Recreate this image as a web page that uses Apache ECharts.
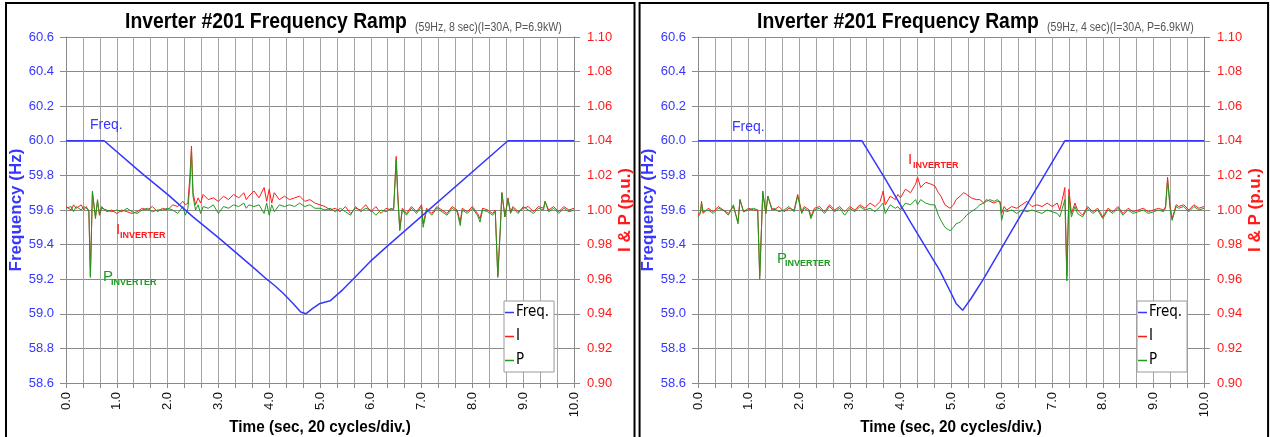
<!DOCTYPE html>
<html><head><meta charset="utf-8">
<script src="https://cdn.jsdelivr.net/npm/echarts@6/dist/echarts.min.js"></script>
<style>html,body{margin:0;padding:0;background:#fff}#c{width:1270px;height:437px}</style>
</head><body><div id="c"></div><script>
// ---------- DATA ----------
const titleMain = 'Inverter #201 Frequency Ramp';
const subtitles = ['(59Hz, 8 sec)(I=30A, P=6.9kW)', '(59Hz, 4 sec)(I=30A, P=6.9kW)'];
const xAxisTitle = 'Time (sec, 20 cycles/div.)';
const seriesNames = ['Freq.', 'I', 'P'];

// Left panel (8 sec ramp)
const freqL = [[0,60.0],[0.75,60.0],[1.5,59.81],[2.0,59.69],[2.5,59.56],[3.0,59.44],[3.3,59.365],[3.68,59.27],[3.95,59.2],[4.1,59.165],[4.27,59.12],[4.47,59.06],[4.62,59.01],[4.72,59.0],[4.85,59.03],[5.0,59.06],[5.2,59.075],[5.45,59.14],[5.65,59.2],[5.98,59.3],[6.32,59.39],[8.7,60.0],[10,60.0]];
const curL = [[0,1.002],[0.1,1.000],[0.15,1.003],[0.2,1.001],[0.3,1.003],[0.35,1.000],[0.4,1.002],[0.45,0.999],[0.48,0.962],[0.52,1.010],[0.58,0.996],[0.62,1.005],[0.66,0.997],[0.7,1.002],[0.8,0.999],[0.9,1.000],[1.0,0.998],[1.1,1.000],[1.2,0.999],[1.3,0.998],[1.4,0.999],[1.5,1.001],[1.6,1.000],[1.7,1.002],[1.8,0.999],[1.9,1.001],[2.0,1.000],[2.1,1.003],[2.2,1.002],[2.3,1.005],[2.35,1.003],[2.4,1.004],[2.44,1.020],[2.47,1.037],[2.5,1.010],[2.55,1.003],[2.6,1.007],[2.65,1.004],[2.7,1.009],[2.8,1.006],[2.9,1.007],[3.0,1.005],[3.1,1.008],[3.2,1.006],[3.3,1.009],[3.4,1.007],[3.5,1.010],[3.55,1.006],[3.6,1.008],[3.7,1.011],[3.8,1.007],[3.9,1.013],[3.95,1.005],[4.0,1.012],[4.05,1.004],[4.1,1.010],[4.2,1.006],[4.3,1.008],[4.4,1.006],[4.5,1.007],[4.6,1.008],[4.7,1.005],[4.8,1.006],[4.9,1.004],[5.0,1.003],[5.1,1.002],[5.2,1.000],[5.3,1.001],[5.4,0.999],[5.5,1.002],[5.6,0.998],[5.7,1.001],[5.8,1.000],[5.9,1.003],[6.0,0.999],[6.1,1.002],[6.2,0.998],[6.3,1.001],[6.4,1.000],[6.45,1.001],[6.5,1.031],[6.53,1.010],[6.57,0.989],[6.62,1.001],[6.7,0.998],[6.8,1.002],[6.9,0.999],[7.0,1.003],[7.03,0.992],[7.1,1.001],[7.2,0.998],[7.3,1.002],[7.4,1.000],[7.5,0.998],[7.6,1.002],[7.7,1.000],[7.76,0.993],[7.8,1.001],[7.9,0.999],[8.0,1.002],[8.1,0.998],[8.15,0.995],[8.2,1.001],[8.3,1.000],[8.4,0.998],[8.45,1.000],[8.5,0.962],[8.55,0.990],[8.58,1.010],[8.64,0.996],[8.7,1.007],[8.75,0.999],[8.8,1.002],[8.9,0.999],[9.0,1.001],[9.1,1.002],[9.2,0.999],[9.3,1.002],[9.4,1.001],[9.43,1.005],[9.5,1.000],[9.6,1.002],[9.7,0.999],[9.8,1.002],[9.9,1.000],[10.0,1.001]];
const powL = [[0,1.001],[0.1,1.002],[0.15,0.999],[0.2,1.002],[0.3,1.000],[0.35,1.002],[0.4,1.001],[0.45,1.000],[0.48,0.961],[0.52,1.011],[0.58,0.995],[0.62,1.006],[0.66,0.997],[0.7,1.001],[0.8,1.000],[0.9,0.999],[1.0,1.000],[1.1,0.999],[1.2,1.001],[1.3,0.999],[1.4,0.998],[1.5,1.000],[1.6,1.001],[1.7,0.999],[1.8,1.000],[1.9,1.000],[2.0,1.001],[2.1,1.000],[2.2,0.998],[2.3,1.002],[2.35,0.997],[2.4,1.001],[2.44,1.015],[2.47,1.034],[2.5,1.008],[2.55,1.000],[2.6,1.003],[2.65,0.998],[2.7,1.002],[2.8,1.001],[2.9,1.003],[3.0,0.998],[3.1,1.002],[3.2,1.001],[3.3,1.003],[3.4,1.002],[3.5,1.004],[3.55,1.001],[3.6,1.003],[3.7,1.002],[3.8,1.003],[3.9,0.998],[3.95,1.004],[4.0,0.997],[4.05,1.003],[4.1,0.999],[4.2,1.003],[4.3,1.002],[4.4,1.003],[4.5,1.002],[4.6,1.004],[4.7,1.002],[4.8,1.003],[4.9,1.001],[5.0,1.001],[5.1,1.000],[5.2,1.001],[5.3,0.999],[5.4,1.001],[5.5,0.999],[5.6,0.997],[5.7,1.002],[5.8,0.999],[5.9,1.001],[6.0,1.000],[6.1,0.997],[6.2,1.000],[6.3,0.999],[6.4,1.001],[6.45,1.000],[6.5,1.029],[6.53,1.008],[6.57,0.988],[6.62,1.000],[6.7,0.997],[6.8,1.001],[6.9,0.998],[7.0,1.002],[7.03,0.990],[7.1,1.000],[7.2,0.997],[7.3,1.001],[7.4,0.999],[7.5,0.997],[7.6,1.001],[7.7,0.999],[7.76,0.991],[7.8,1.000],[7.9,0.998],[8.0,1.001],[8.1,0.997],[8.15,0.993],[8.2,1.000],[8.3,0.999],[8.4,0.997],[8.45,0.999],[8.5,0.961],[8.55,0.989],[8.58,1.010],[8.64,0.996],[8.7,1.006],[8.75,0.998],[8.8,1.001],[8.9,0.998],[9.0,1.002],[9.1,1.000],[9.2,0.998],[9.3,1.001],[9.4,1.000],[9.43,1.005],[9.5,0.999],[9.6,1.001],[9.7,0.998],[9.8,1.001],[9.9,0.999],[10.0,1.000]];

// Right panel (4 sec ramp)
const freqR = [[0,60.0],[3.24,60.0],[3.7,59.78],[4.2,59.53],[4.78,59.25],[5.0,59.12],[5.1,59.06],[5.23,59.02],[5.4,59.09],[5.64,59.2],[6.1,59.43],[6.6,59.68],[7.25,60.0],[10,60.0]];
const curR = [[0,0.997],[0.05,0.999],[0.07,1.005],[0.1,0.998],[0.2,1.001],[0.3,0.999],[0.4,1.002],[0.5,1.000],[0.6,0.998],[0.7,1.002],[0.79,0.993],[0.83,1.006],[0.9,0.999],[1.0,1.001],[1.1,1.000],[1.18,1.000],[1.22,0.962],[1.28,1.010],[1.34,0.998],[1.38,1.008],[1.46,1.001],[1.5,1.000],[1.6,1.002],[1.7,0.999],[1.8,1.001],[1.9,1.000],[1.97,1.009],[2.05,0.999],[2.1,1.002],[2.2,1.000],[2.23,0.996],[2.3,1.001],[2.4,1.002],[2.5,0.999],[2.6,1.003],[2.7,1.000],[2.8,1.002],[2.9,0.999],[3.0,1.002],[3.1,1.000],[3.2,1.003],[3.3,1.001],[3.4,1.004],[3.5,1.002],[3.6,1.005],[3.66,1.011],[3.7,1.003],[3.8,1.008],[3.9,1.006],[3.95,1.009],[4.0,1.007],[4.1,1.012],[4.2,1.010],[4.3,1.015],[4.34,1.019],[4.4,1.013],[4.5,1.016],[4.6,1.015],[4.68,1.014],[4.75,1.010],[4.8,1.008],[4.88,1.003],[4.98,1.001],[5.05,1.003],[5.1,1.006],[5.18,1.008],[5.25,1.010],[5.31,1.009],[5.4,1.007],[5.5,1.006],[5.57,1.006],[5.65,1.004],[5.7,1.006],[5.77,1.005],[5.85,1.004],[5.92,1.005],[5.97,1.005],[6.0,0.998],[6.05,1.002],[6.1,1.000],[6.2,1.002],[6.3,1.001],[6.4,1.003],[6.5,1.005],[6.6,1.002],[6.7,1.003],[6.8,1.002],[6.9,1.004],[7.0,1.002],[7.1,1.004],[7.15,1.000],[7.2,1.006],[7.25,1.013],[7.29,0.962],[7.33,1.012],[7.38,0.998],[7.45,1.004],[7.5,1.000],[7.6,0.997],[7.7,1.002],[7.8,0.999],[7.9,1.001],[8.0,0.996],[8.1,1.001],[8.2,0.999],[8.3,1.002],[8.4,0.998],[8.5,1.001],[8.6,0.999],[8.7,1.000],[8.8,1.001],[8.9,0.999],[9.0,1.000],[9.1,1.001],[9.2,1.000],[9.24,1.002],[9.28,1.019],[9.33,1.002],[9.37,0.995],[9.45,1.003],[9.5,1.002],[9.6,1.003],[9.7,1.000],[9.8,1.003],[9.9,1.001],[10.0,1.002]];
const powR = [[0,0.996],[0.05,0.998],[0.07,1.004],[0.1,0.999],[0.2,1.000],[0.3,0.998],[0.4,1.001],[0.5,1.000],[0.6,0.997],[0.7,1.003],[0.79,0.992],[0.83,1.006],[0.9,0.999],[1.0,1.000],[1.1,1.001],[1.18,1.000],[1.22,0.960],[1.28,1.011],[1.34,0.998],[1.38,1.008],[1.46,1.000],[1.5,1.001],[1.6,0.999],[1.7,1.000],[1.8,1.002],[1.9,0.999],[1.97,1.008],[2.05,0.998],[2.1,1.001],[2.2,0.999],[2.23,0.995],[2.3,1.000],[2.4,1.001],[2.5,0.998],[2.6,1.002],[2.7,0.999],[2.8,1.001],[2.9,0.997],[3.0,1.001],[3.1,0.999],[3.2,1.002],[3.3,1.000],[3.4,1.001],[3.5,0.999],[3.6,1.002],[3.66,1.004],[3.7,0.998],[3.8,1.003],[3.9,1.001],[3.95,1.002],[4.0,1.000],[4.1,1.004],[4.2,1.003],[4.3,1.006],[4.34,1.003],[4.4,1.006],[4.5,1.004],[4.6,1.003],[4.68,1.003],[4.75,0.997],[4.8,0.994],[4.88,0.990],[4.98,0.988],[5.05,0.990],[5.1,0.992],[5.18,0.993],[5.25,0.995],[5.31,0.997],[5.4,0.999],[5.5,1.001],[5.57,1.003],[5.65,1.004],[5.7,1.005],[5.77,1.006],[5.85,1.005],[5.92,1.006],[5.97,1.004],[6.0,0.994],[6.05,1.000],[6.1,0.999],[6.2,1.000],[6.3,0.998],[6.4,1.000],[6.5,0.999],[6.6,1.000],[6.7,0.999],[6.8,0.998],[6.9,1.000],[7.0,0.999],[7.1,0.998],[7.15,0.996],[7.2,1.001],[7.25,1.006],[7.29,0.959],[7.33,1.008],[7.38,0.996],[7.45,1.002],[7.5,0.998],[7.6,0.996],[7.7,1.001],[7.8,0.998],[7.9,1.000],[8.0,0.995],[8.1,1.000],[8.2,0.998],[8.3,1.001],[8.4,0.997],[8.5,1.000],[8.6,0.998],[8.7,0.999],[8.8,1.000],[8.9,0.998],[9.0,0.999],[9.1,1.000],[9.2,0.999],[9.24,1.001],[9.28,1.017],[9.33,1.001],[9.37,0.994],[9.45,1.002],[9.5,1.001],[9.6,1.002],[9.7,0.999],[9.8,1.002],[9.9,1.000],[10.0,1.001]];

// ---------- STYLE / LAYOUT ----------
const NARROW = "'Liberation Sans Narrow','DejaVu Sans Condensed','Arial Narrow',sans-serif";
const SANS = "'Liberation Sans',Arial,sans-serif";
const BLUE = '#3636ff', RED = '#ff1a1a', GREEN = '#1f9a1f';
const panels = [
  {off: 0, gridLeft: 66, gridW: 508, freq: freqL, cur: curL, pow: powL, legendLeft: 504},
  {off: 632, gridLeft: 698, gridW: 506, freq: freqR, cur: curR, pow: powR, legendLeft: 1137}
];

const option = {animation: false, backgroundColor: '#fff',
  grid: [], xAxis: [], yAxis: [], series: [], legend: [], graphic: []};

panels.forEach((p, i) => {
  option.grid.push({left: p.gridLeft, top: 37, width: p.gridW, height: 346});
  option.xAxis.push({
    type: 'value', gridIndex: i, min: 0, max: 10, interval: 1,
    axisLine: {show: true, onZero: false, lineStyle: {color: '#8a8a8a'}},
    axisTick: {show: true, length: 5, lineStyle: {color: '#8a8a8a'}},
    minorTick: {show: true, splitNumber: 3, length: 5, lineStyle: {color: '#8a8a8a'}},
    splitLine: {show: true, lineStyle: {color: '#a5a5a5'}},
    minorSplitLine: {show: true, lineStyle: {color: '#a5a5a5'}},
    axisLabel: {rotate: 90, margin: 9, fontSize: 13, color: '#111', fontFamily: SANS, formatter: v => v.toFixed(1)}
  });
  option.yAxis.push({
    type: 'value', gridIndex: i, position: 'left', min: 58.6, max: 60.6, interval: 0.2,
    axisLine: {show: true, lineStyle: {color: '#8a8a8a'}},
    axisTick: {show: true, length: 6, lineStyle: {color: '#8a8a8a'}},
    splitLine: {show: true, lineStyle: {color: '#8a8a8a'}},
    axisLabel: {color: BLUE, fontSize: 13, margin: 12, fontFamily: SANS, formatter: v => v.toFixed(1)},
    name: 'Frequency (Hz)', nameLocation: 'middle', nameRotate: 90, nameGap: 37,
    nameTextStyle: {color: BLUE, fontWeight: 'bold', fontSize: 17, fontFamily: SANS}
  });
  option.yAxis.push({
    type: 'value', gridIndex: i, position: 'right', min: 0.9, max: 1.1, interval: 0.02,
    axisLine: {show: true, lineStyle: {color: '#8a8a8a'}},
    axisTick: {show: true, length: 6, lineStyle: {color: '#8a8a8a'}},
    splitLine: {show: false},
    axisLabel: {color: RED, fontSize: 13, margin: 13, fontFamily: SANS, formatter: v => v.toFixed(2)},
    name: 'I & P (p.u.)', nameLocation: 'middle', nameRotate: 90, nameGap: 43,
    nameTextStyle: {color: RED, fontWeight: 'bold', fontSize: 17, fontFamily: SANS}
  });
  option.series.push(
    {name: 'I', type: 'line', xAxisIndex: i, yAxisIndex: 2 * i + 1, data: p.cur, showSymbol: false, symbol: 'none',
     lineStyle: {color: RED, width: 1}, itemStyle: {color: RED}, z: 2},
    {name: 'P', type: 'line', xAxisIndex: i, yAxisIndex: 2 * i + 1, data: p.pow, showSymbol: false, symbol: 'none',
     lineStyle: {color: GREEN, width: 1}, itemStyle: {color: GREEN}, z: 3},
    {name: 'Freq.', type: 'line', xAxisIndex: i, yAxisIndex: 2 * i, data: p.freq, showSymbol: false, symbol: 'none',
     lineStyle: {color: BLUE, width: 1.5}, itemStyle: {color: BLUE}, z: 4}
  );
  option.legend.push({
    data: seriesNames, left: p.legendLeft, top: 301, orient: 'vertical',
    icon: 'rect', itemWidth: 9, itemHeight: 1.5, itemGap: 9,
    padding: [4, 5, 4, 1], backgroundColor: '#fff', borderColor: '#9a9a9a', borderWidth: 1,
    textStyle: {fontFamily: NARROW, fontSize: 15, color: '#000', padding: [0, 0, 0, -3]},
    selectedMode: false
  });
  // title (narrow look via horizontal scale)
  option.graphic.push({type: 'text', x: 125 + p.off, y: 22, scaleX: 0.88, z: 60, silent: true,
    style: {text: titleMain, x: 0, y: 0, align: 'left', verticalAlign: 'middle', fill: '#000',
      font: 'bold 22px ' + SANS}});
  option.graphic.push({type: 'text', x: 415 + p.off, y: 28, scaleX: 0.88, z: 60, silent: true,
    style: {text: subtitles[i], x: 0, y: 0, align: 'left', verticalAlign: 'middle', fill: '#555',
      font: '12px ' + SANS}});
  option.graphic.push({type: 'text', x: p.gridLeft + p.gridW / 2, y: 427, scaleX: 0.9, z: 60, silent: true,
    style: {text: xAxisTitle, x: 0, y: 0, align: 'center', verticalAlign: 'middle', fill: '#000',
      font: 'bold 17px ' + SANS}});
  option.graphic.push({type: 'rect', shape: {x: 6 + p.off * 1.0025, y: 3, width: 628.5, height: 460},
    style: {fill: 'none', stroke: '#000', lineWidth: 2}, silent: true, z: 100});
});

// annotation labels
const ann = [
  {t: 'Freq.', x: 90, y: 118, c: BLUE, f: '14px ' + SANS},
  {t: 'I', x: 116, y: 222, c: RED, f: '15px ' + SANS},
  {t: 'INVERTER', x: 120, y: 231, c: RED, f: 'bold 9px ' + SANS},
  {t: 'P', x: 103, y: 269, c: GREEN, f: '15px ' + SANS},
  {t: 'INVERTER', x: 111, y: 278, c: GREEN, f: 'bold 9px ' + SANS},
  {t: 'Freq.', x: 732, y: 120, c: BLUE, f: '14px ' + SANS},
  {t: 'I', x: 908, y: 152, c: RED, f: '15px ' + SANS},
  {t: 'INVERTER', x: 913, y: 161, c: RED, f: 'bold 9px ' + SANS},
  {t: 'P', x: 777, y: 251, c: GREEN, f: '15px ' + SANS},
  {t: 'INVERTER', x: 785, y: 259, c: GREEN, f: 'bold 9px ' + SANS}
];
ann.forEach(a => option.graphic.push({type: 'text', left: a.x, top: a.y, z: 50,
  style: {text: a.t, fill: a.c, font: a.f}}));

const chart = echarts.init(document.getElementById('c'));
chart.setOption(option);
</script></body></html>
